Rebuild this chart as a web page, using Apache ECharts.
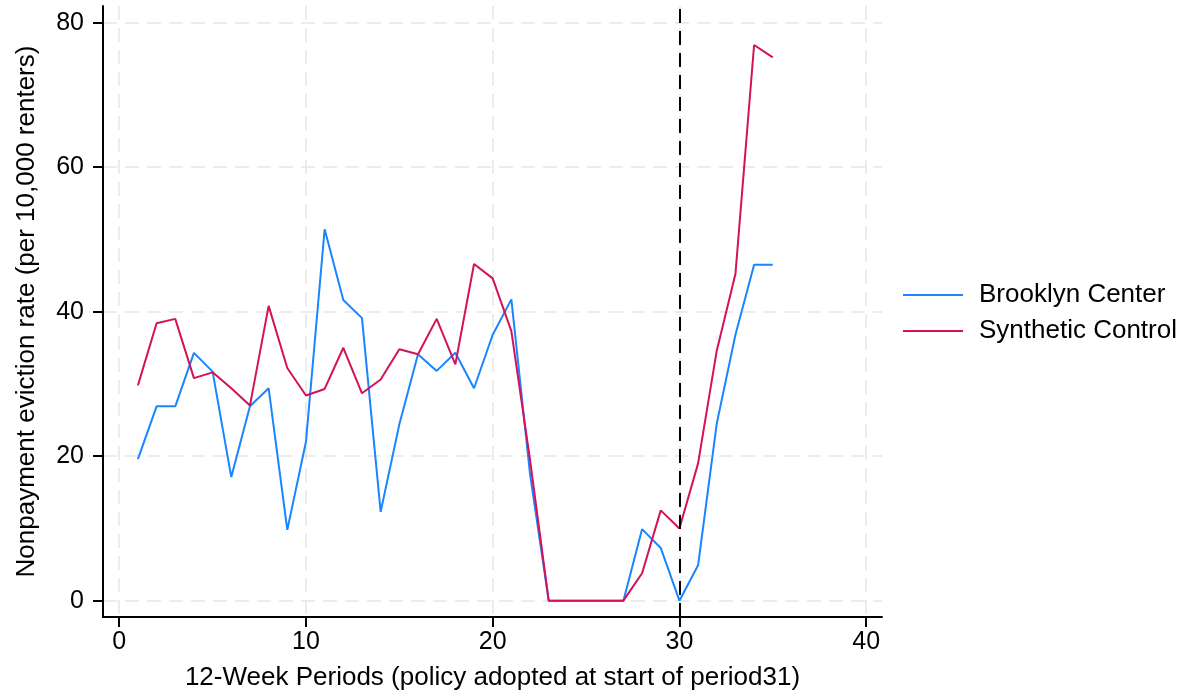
<!DOCTYPE html>
<html>
<head>
<meta charset="utf-8">
<script src="https://cdn.jsdelivr.net/npm/echarts@6/dist/echarts.min.js"></script>
<style>
  html, body { margin: 0; padding: 0; background: #fff; }
  #chart { width: 1185px; height: 696px; }
</style>
</head>
<body>
<div id="chart"></div>
<script>
// 12-week periods and nonpayment eviction rates (per 10,000 renters)
const periods = [1,2,3,4,5,6,7,8,9,10,11,12,13,14,15,16,17,18,19,20,21,22,23,24,25,26,27,28,29,30,31,32,33,34,35];
const brooklynCenter = [19.6, 26.9, 26.9, 34.3, 31.7, 17.1, 26.9, 29.4, 9.8, 22.0, 51.4, 41.6, 39.1, 12.3, 24.4, 34.1, 31.8, 34.3, 29.4, 36.8, 41.7, 17.5, 0, 0, 0, 0, 0, 9.9, 7.3, 0, 4.9, 24.5, 36.8, 46.5, 46.5];
const syntheticControl = [29.8, 38.4, 39.0, 30.8, 31.6, 29.4, 27.0, 40.8, 32.2, 28.4, 29.3, 35.0, 28.7, 30.6, 34.8, 34.1, 39.0, 32.7, 46.6, 44.6, 37.3, 19.5, 0, 0, 0, 0, 0, 3.8, 12.5, 10.0, 19.0, 34.6, 45.2, 76.9, 75.2];
const xTicks = [0, 10, 20, 30, 40];
const yTicks = [0, 20, 40, 60, 80];
const policyPeriod = 30;

const FONT = 'Liberation Sans, Arial, sans-serif';
const gridDash = { color: '#e6e6e6', width: 1.5, type: [14, 8] };

const chart = echarts.init(document.getElementById('chart'), null, { renderer: 'canvas' });

chart.setOption({
  backgroundColor: '#ffffff',
  animation: false,
  textStyle: { fontFamily: FONT, color: '#000' },
  grid: { left: 103, right: 303, top: 6, bottom: 78, containLabel: false },
  legend: {
    orient: 'vertical',
    left: 898,
    top: 277,
    itemWidth: 60,
    itemHeight: 2,
    itemGap: 10,
    icon: 'rect',
    textStyle: { fontFamily: FONT, fontSize: 26, color: '#000', padding: [0, 0, 0, 11] },
    data: ['Brooklyn Center', 'Synthetic Control']
  },
  xAxis: {
    type: 'value',
    min: -0.87,
    max: 40.85,
    name: '12-Week Periods (policy adopted at start of period31)',
    nameLocation: 'middle',
    nameGap: 48,
    nameTextStyle: { fontFamily: FONT, fontSize: 26, color: '#000' },
    axisLine: { show: true, onZero: false, lineStyle: { color: '#000', width: 2 } },
    axisTick: { show: true, length: 10, customValues: xTicks, lineStyle: { color: '#000', width: 2 } },
    axisLabel: { customValues: xTicks, margin: 13, fontFamily: FONT, fontSize: 25, color: '#000' },
    splitLine: { show: true, lineStyle: gridDash }
  },
  yAxis: {
    type: 'value',
    min: -2.26,
    max: 82.3,
    name: 'Nonpayment eviction rate (per 10,000 renters)',
    nameLocation: 'middle',
    nameGap: 63,
    nameRotate: 90,
    nameTextStyle: { fontFamily: FONT, fontSize: 26, color: '#000' },
    axisLine: { show: true, onZero: false, lineStyle: { color: '#000', width: 2 } },
    axisTick: { show: true, length: 10, customValues: yTicks, lineStyle: { color: '#000', width: 2 } },
    axisLabel: { customValues: yTicks, margin: 19, fontFamily: FONT, fontSize: 25, color: '#000' },
    splitLine: { show: true, lineStyle: gridDash }
  },
  series: [
    {
      name: 'Brooklyn Center',
      type: 'line',
      data: periods.map((p, i) => [p, brooklynCenter[i]]),
      showSymbol: false,
      symbol: 'none',
      color: '#1A85FF',
      lineStyle: { color: '#1A85FF', width: 2 },
      z: 3
    },
    {
      name: 'Synthetic Control',
      type: 'line',
      data: periods.map((p, i) => [p, syntheticControl[i]]),
      showSymbol: false,
      symbol: 'none',
      color: '#D41159',
      lineStyle: { color: '#D41159', width: 2 },
      z: 4,
      markLine: {
        silent: true,
        symbol: 'none',
        label: { show: false },
        lineStyle: { color: '#000', width: 2, type: [14, 8] },
        data: [{ xAxis: policyPeriod }]
      }
    }
  ]
});
</script>
</body>
</html>
